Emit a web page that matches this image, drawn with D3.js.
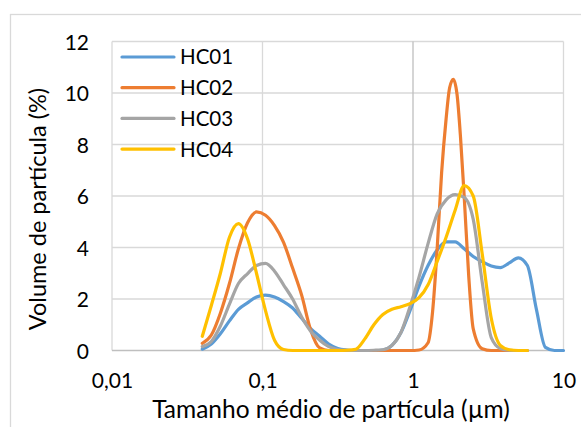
<!DOCTYPE html>
<html>
<head>
<meta charset="utf-8">
<script src="https://cdn.jsdelivr.net/npm/d3@7"></script>
<style>
  html, body { margin: 0; padding: 0; background: #fff; }
  svg { display: block; }
  text { font-family: Lato, "Open Sans", sans-serif; fill: #000; }
</style>
</head>
<body>
<svg id="chart" width="581" height="427"></svg>
<script>
// ---- data ----
const seriesNames = ["HC01", "HC02", "HC03", "HC04"];
const seriesColors = ["#5B9BD5", "#ED7D31", "#A5A5A5", "#FFC000"];

const sizes = [0.0398, 0.0457, 0.0525, 0.0603, 0.0692, 0.0794, 0.0912, 0.1047, 0.1202, 0.1380,
  0.1585, 0.1820, 0.2089, 0.2399, 0.2754, 0.3162, 0.3631, 0.4169, 0.4786, 0.5495,
  0.6310, 0.7244, 0.8318, 0.9550, 1.0965, 1.2589, 1.4454, 1.6596, 1.9055, 2.1878,
  2.5119, 2.8840, 3.3113, 3.8019, 4.3652, 5.0119, 5.7544, 6.6069, 7.5858, 8.7096, 10.0];

const hc01 = [0.05, 0.25, 0.65, 1.15, 1.6, 1.85, 2.08, 2.15, 2.08, 1.9,
  1.65, 1.25, 0.85, 0.55, 0.25, 0.08, 0.02, 0, 0, 0,
  0.02, 0.2, 0.7, 1.55, 2.5, 3.3, 3.9, 4.22, 4.22, 3.95,
  3.65, 3.45, 3.28, 3.22, 3.4, 3.6, 3.3, 1.6, 0.12, 0, 0];

const hc02Sizes = [0.0398, 0.0457, 0.0525, 0.0603, 0.0692, 0.0794, 0.0912, 0.1047, 0.1202, 0.1380,
  0.1585, 0.1820, 0.2089, 0.2399, 0.2754, 0.3162, 0.3631, 0.4169, 0.4786, 0.5495,
  0.6310, 0.7244, 0.8318, 0.9550, 1.0965, 1.2589, 1.349, 1.4454, 1.549, 1.6596,
  1.751, 1.853, 1.961, 2.068, 2.1878, 2.345, 2.5119, 2.8840, 3.3113, 3.8019,
  4.3652, 5.0119, 5.7544];
const hc02 = [0.28, 0.6, 1.45, 2.6, 3.95, 4.95, 5.38, 5.25, 4.85, 4.2,
  3.2, 2.15, 0.8, 0.1, 0, 0, 0, 0, 0, 0,
  0, 0, 0, 0, 0.02, 0.3, 1.5, 3.9, 6.9, 9.0,
  10.2, 10.53, 9.95, 8.3, 6.0, 2.9, 0.85, 0.07, 0, 0,
  0, 0, 0];

const hc03 = [0.15, 0.35, 0.95, 1.8, 2.6, 2.98, 3.3, 3.38, 3.08, 2.55,
  2.0, 1.3, 0.75, 0.4, 0.15, 0.04, 0.01, 0, 0, 0.01,
  0.03, 0.2, 0.7, 1.7, 2.85, 4.15, 5.3, 5.85, 6.05, 5.95,
  5.1, 2.65, 0.5, 0.08, 0.01, 0, 0];

const hc04 = [0.55, 1.75, 3.0, 4.4, 4.93, 4.35, 3.0, 1.55, 0.4, 0.04,
  0, 0, 0, 0, 0, 0, 0.01, 0.05, 0.45, 1.0,
  1.4, 1.6, 1.7, 1.82, 2.05, 2.55, 3.45, 4.4, 5.45, 6.4,
  6.0, 3.75, 1.25, 0.2, 0.03, 0, 0];

const xTickValues = [0.01, 0.1, 1, 10];
const xTickLabels = ["0,01", "0,1", "1", "10"];
const yTickValues = [0, 2, 4, 6, 8, 10, 12];

const xTitle = "Tamanho médio de partícula (µm)";
const yTitle = "Volume de partícula (%)";

// ---- build ----
const seriesData = [
  { name: seriesNames[0], color: seriesColors[0], pts: hc01.map((v, i) => [sizes[i], v]) },
  { name: seriesNames[1], color: seriesColors[1], pts: hc02.map((v, i) => [hc02Sizes[i], v]) },
  { name: seriesNames[2], color: seriesColors[2], pts: hc03.map((v, i) => [sizes[i], v]) },
  { name: seriesNames[3], color: seriesColors[3], pts: hc04.map((v, i) => [sizes[i], v]) }
];

const svg = d3.select("#chart");
const plot = { left: 112, right: 563.5, top: 41.5, bottom: 350.5 };

// chart area border
svg.append("rect")
  .attr("x", 10.5).attr("y", 14.5)
  .attr("width", 640).attr("height", 500)
  .attr("fill", "#fff").attr("stroke", "#D9D9D9").attr("stroke-width", 1.3);

const x = d3.scaleLog().domain([0.01, 10]).range([plot.left, plot.right]);
const y = d3.scaleLinear().domain([0, 12]).range([plot.bottom, plot.top]);

// gridlines
const g = svg.append("g");
g.selectAll("line.hg").data(yTickValues.filter(d => d !== 0)).enter().append("line")
  .attr("x1", plot.left).attr("x2", plot.right)
  .attr("y1", d => y(d)).attr("y2", d => y(d))
  .attr("stroke", "#D9D9D9").attr("stroke-width", 1.3);
g.selectAll("line.vg").data(xTickValues.filter(d => d !== 1)).enter().append("line")
  .attr("x1", d => x(d)).attr("x2", d => x(d))
  .attr("y1", plot.top).attr("y2", plot.bottom)
  .attr("stroke", "#D9D9D9").attr("stroke-width", 1.3);

// axis lines (value axis crosses at 1 on log axis)
g.append("line")
  .attr("x1", plot.left).attr("x2", plot.right)
  .attr("y1", y(0)).attr("y2", y(0))
  .attr("stroke", "#BFBFBF").attr("stroke-width", 1.3);
g.append("line")
  .attr("x1", x(1)).attr("x2", x(1))
  .attr("y1", plot.top).attr("y2", plot.bottom)
  .attr("stroke", "#BFBFBF").attr("stroke-width", 1.3);

// axes labels via d3 axes (no domain/ticks)
const xAxis = d3.axisBottom(x).tickValues(xTickValues)
  .tickFormat((d, i) => xTickLabels[i]).tickSize(0).tickPadding(0);
const xa = svg.append("g").attr("transform", `translate(0, ${plot.bottom})`).call(xAxis);
xa.select(".domain").remove();
xa.selectAll("text").attr("y", 37.5).attr("dy", null)
  .style("font-size", "21px").style("font-family", "Lato, sans-serif").attr("fill", "#000");

const yAxis = d3.axisLeft(y).tickValues(yTickValues).tickSize(0).tickPadding(0);
const ya = svg.append("g").attr("transform", `translate(89, 0)`).call(yAxis);
ya.select(".domain").remove();
ya.selectAll("text").attr("x", 0).attr("dy", "0.36em")
  .style("font-size", "21px").style("font-family", "Lato, sans-serif").attr("fill", "#000");

// series
const line = d3.line()
  .x(d => x(d[0])).y(d => y(d[1]))
  .curve(d3.curveMonotoneX);
svg.append("g").selectAll("path").data(seriesData).enter().append("path")
  .attr("d", d => line(d.pts))
  .attr("fill", "none")
  .attr("stroke", d => d.color)
  .attr("stroke-width", 3.2)
  .attr("stroke-linejoin", "round")
  .attr("stroke-linecap", "round");

// legend
const leg = svg.append("g");
seriesData.forEach((s, i) => {
  const ly = 57 + i * 30.7;
  leg.append("line").attr("x1", 122).attr("x2", 174).attr("y1", ly).attr("y2", ly)
    .attr("stroke", s.color).attr("stroke-width", 3.2).attr("stroke-linecap", "round");
  leg.append("text").attr("x", 180).attr("y", ly + 7.4)
    .style("font-size", "20.5px").text(s.name);
});

// titles
svg.append("text")
  .attr("x", 331).attr("y", 418)
  .attr("text-anchor", "middle").style("font-size", "24.5px").text(xTitle);
svg.append("text")
  .attr("transform", `translate(46, 209) rotate(-90)`)
  .attr("text-anchor", "middle").style("font-size", "23.5px").text(yTitle);
</script>
</body>
</html>
